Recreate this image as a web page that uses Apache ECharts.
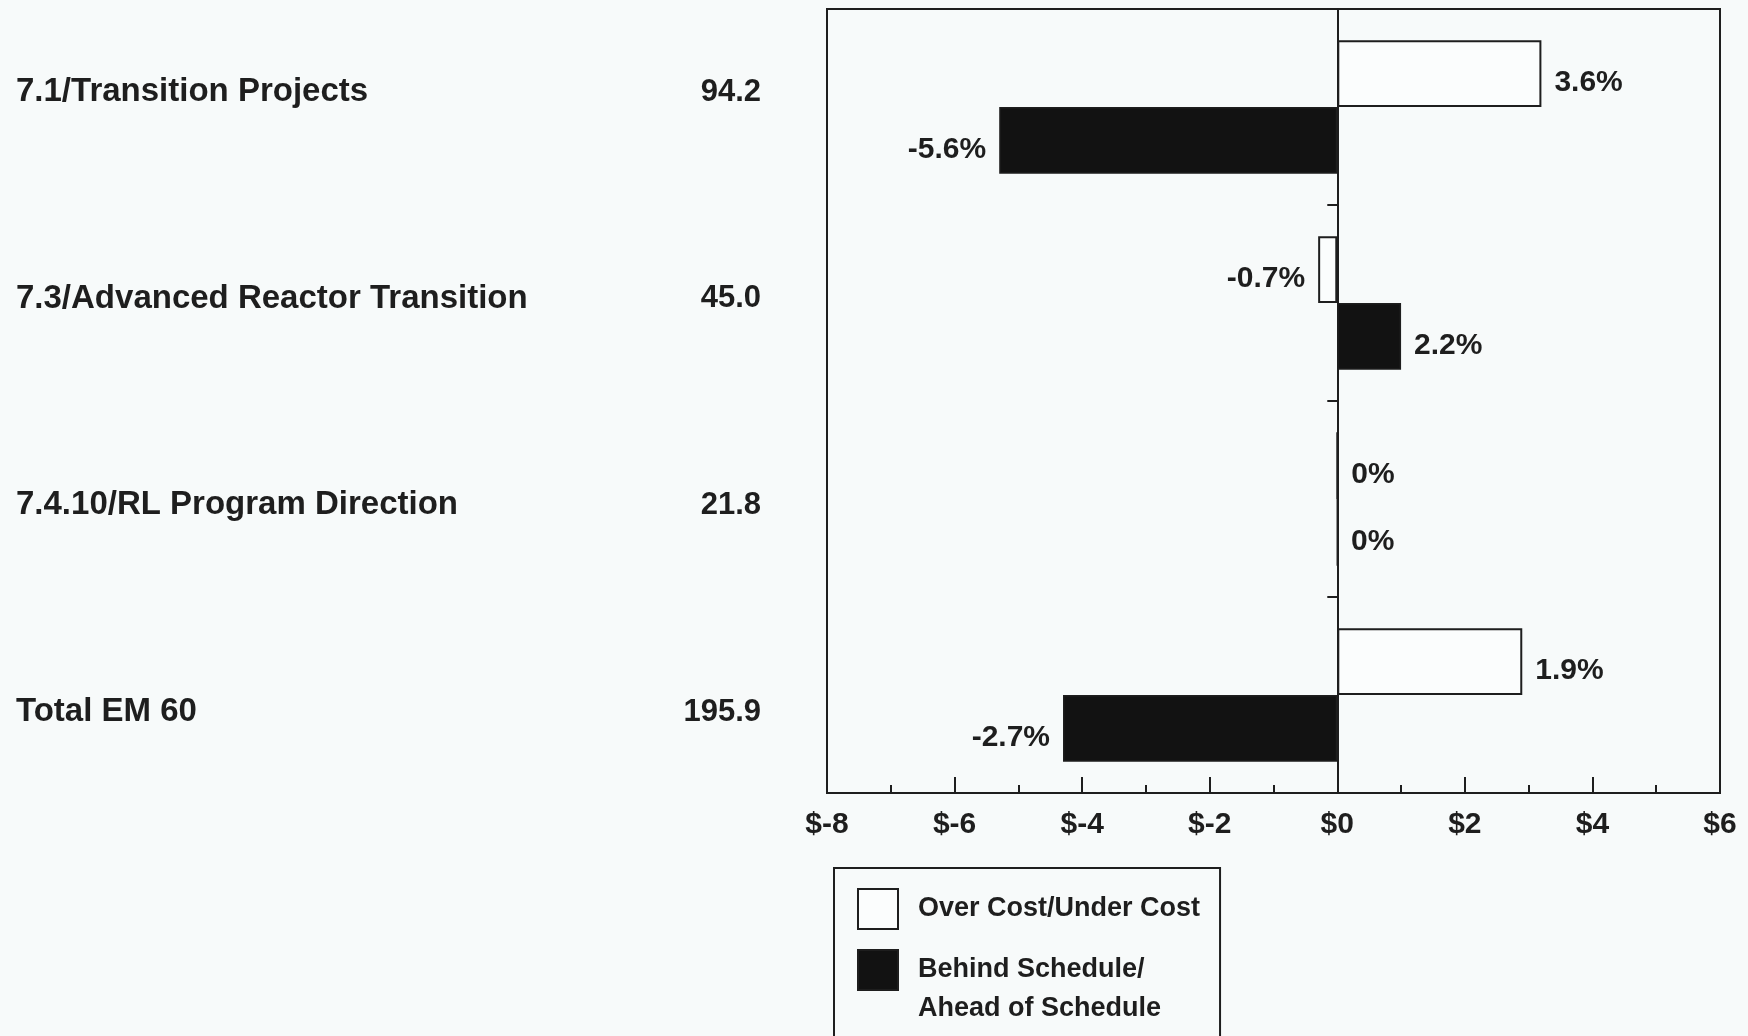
<!DOCTYPE html>
<html>
<head>
<meta charset="utf-8">
<script src="https://cdn.jsdelivr.net/npm/echarts@6/dist/echarts.min.js"></script>
<style>
html,body{margin:0;padding:0;background:#f7fafa;}
#chart{width:1748px;height:1036px;}
</style>
</head>
<body>
<div id="chart"></div>
<script>
const categories = ['7.1/Transition Projects', '7.3/Advanced Reactor Transition', '7.4.10/RL Program Direction', 'Total EM 60'];
const budgets = ['94.2', '45.0', '21.8', '195.9'];
const costVariance = [3.2, -0.3, 0, 2.9];
const scheduleVariance = [-5.3, 1.0, 0, -4.3];
const costLabels = ['3.6%', '-0.7%', '0%', '1.9%'];
const scheduleLabels = ['-5.6%', '2.2%', '0%', '-2.7%'];
const seriesNames = ['Over Cost/Under Cost', 'Behind Schedule/\nAhead of Schedule'];
const xMin = -8, xMax = 6, xStep = 2;

const ink = '#1e1e1e';
const font = '"Liberation Sans", Arial, sans-serif';

function barData(values) {
  return values.map(v => ({ value: v, label: { position: v < 0 ? 'left' : 'right' } }));
}

const chart = echarts.init(document.getElementById('chart'), null, { renderer: 'canvas' });
chart.setOption({
  backgroundColor: '#f7fafa',
  animation: false,
  textStyle: { fontFamily: font, fontWeight: 'bold', color: ink },
  grid: [
    { left: 827, right: 28, top: 9, bottom: 243, show: true, borderColor: ink, borderWidth: 2, containLabel: false, outerBoundsMode: 'none' },
    { left: 762, width: 10, top: 92, height: 620, containLabel: false, outerBoundsMode: 'none' }
  ],
  xAxis: [
    {
      type: 'value', gridIndex: 0, min: xMin, max: xMax, interval: xStep,
      axisLine: { show: true, onZero: false, lineStyle: { color: ink, width: 2 } },
      axisTick: { show: true, inside: true, length: 16, lineStyle: { color: ink, width: 2 } },
      minorTick: { show: true, splitNumber: 2, length: 8, lineStyle: { color: ink, width: 2 } },
      splitLine: { show: false },
      axisLabel: { formatter: v => '$' + v, fontSize: 30, fontWeight: 'bold', color: ink, margin: 17, fontFamily: font }
    },
    { type: 'value', gridIndex: 1, show: false }
  ],
  yAxis: [
    {
      type: 'category', gridIndex: 0, data: categories, inverse: true,
      axisLine: { show: true, onZero: true, lineStyle: { color: ink, width: 2 } },
      axisTick: { show: true, length: 10, lineStyle: { color: ink, width: 2 } },
      axisLabel: { show: false }
    },
    {
      type: 'category', gridIndex: 1, data: categories, inverse: true, boundaryGap: false, position: 'left',
      axisLine: { show: false }, axisTick: { show: false },
      axisLabel: { interval: 0, align: 'left', margin: 746, fontSize: 33, fontWeight: 'bold', color: ink, fontFamily: font }
    },
    {
      type: 'category', gridIndex: 1, data: budgets, inverse: true, boundaryGap: false, position: 'left',
      axisLine: { show: false }, axisTick: { show: false },
      axisLabel: { interval: 0, align: 'right', margin: 1, fontSize: 31, fontWeight: 'bold', color: ink, fontFamily: font }
    }
  ],
  legend: {
    orient: 'vertical', left: 834, top: 868, height: 400,
    padding: [20, 20, 80, 23],
    itemWidth: 40, itemHeight: 40, itemGap: -18.5,
    borderColor: ink, borderWidth: 2,
    icon: 'rect',
    formatter: name => name === seriesNames[1] ? '\n' + name : name,
    textStyle: { fontSize: 27, fontWeight: 'bold', color: ink, fontFamily: font, padding: [0, 0, 0, 15], lineHeight: 39 },
    data: seriesNames
  },
  series: [
    {
      name: seriesNames[0], type: 'bar', xAxisIndex: 0, yAxisIndex: 0,
      data: barData(costVariance),
      barGap: '0%', barCategoryGap: '32%',
      itemStyle: { color: '#fbfdfd', borderColor: ink, borderWidth: 2 },
      label: { show: true, distance: 13, offset: [0, 9], fontSize: 30, fontWeight: 'bold', color: ink, fontFamily: font,
        formatter: p => costLabels[p.dataIndex] }
    },
    {
      name: seriesNames[1], type: 'bar', xAxisIndex: 0, yAxisIndex: 0,
      data: barData(scheduleVariance),
      barGap: '0%', barCategoryGap: '32%',
      itemStyle: { color: '#121212', borderColor: ink, borderWidth: 1.5 },
      label: { show: true, distance: 13, offset: [0, 9], fontSize: 30, fontWeight: 'bold', color: ink, fontFamily: font,
        formatter: p => scheduleLabels[p.dataIndex] }
    }
  ]
});
</script>
</body>
</html>
